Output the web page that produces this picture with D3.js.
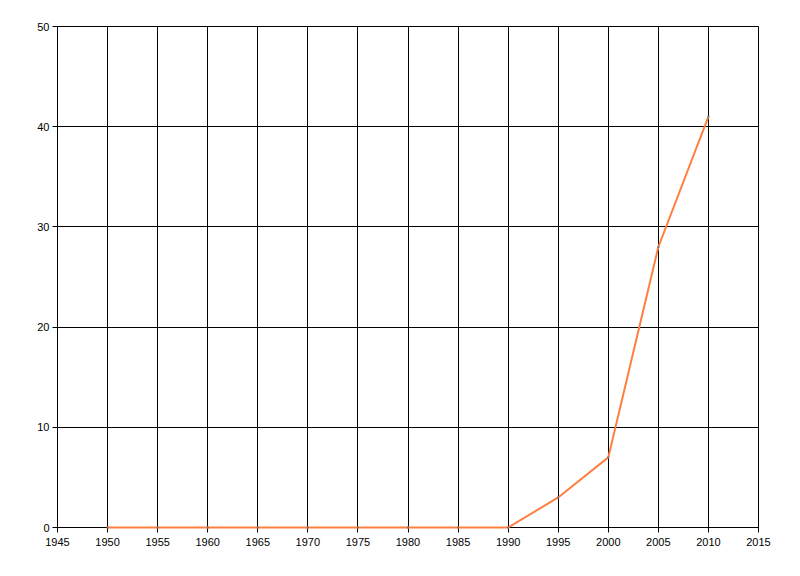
<!DOCTYPE html>
<html lang="en">
<head>
    <meta charset="UTF-8">
    <title>Line Chart</title>
    <style>
        body, html {
            margin: 0;
            padding: 0;
            background-color: #ffffff;
        }
        #chart text {
            font-family: "Liberation Sans", Arial, sans-serif;
            font-size: 11px;
            fill: #000;
        }
    </style>
</head>
<body>
    <div id="chart"></div>

    <script src="https://d3js.org/d3.v7.min.js"></script>
    <script>
        // Data
        const years = [1950, 1955, 1960, 1965, 1970, 1975, 1980, 1985, 1990, 1995, 2000, 2005, 2010];
        const values = [0, 0, 0, 0, 0, 0, 0, 0, 0, 3, 7, 28, 41];
        const xTicks = [1945, 1950, 1955, 1960, 1965, 1970, 1975, 1980, 1985, 1990, 1995, 2000, 2005, 2010, 2015];
        const yTicks = [0, 10, 20, 30, 40, 50];

        const width = 800, height = 576;
        const margin = { left: 57.5, right: 41.5, top: 26.5, bottom: 48.5 };

        const svg = d3.select("#chart").append("svg")
            .attr("width", width)
            .attr("height", height);

        const x = d3.scaleLinear()
            .domain([1945, 2015])
            .range([margin.left, width - margin.right]);

        const y = d3.scaleLinear()
            .domain([0, 50])
            .range([height - margin.bottom, margin.top]);

        // Grid lines
        const grid = svg.append("g")
            .attr("stroke", "#000")
            .attr("stroke-width", 1);

        grid.selectAll("line.vx")
            .data(xTicks)
            .join("line")
            .attr("class", "vx")
            .attr("x1", d => Math.round(x(d) - 0.5) + 0.5)
            .attr("x2", d => Math.round(x(d) - 0.5) + 0.5)
            .attr("y1", y(50))
            .attr("y2", y(0) + 5);

        grid.selectAll("line.hy")
            .data(yTicks)
            .join("line")
            .attr("class", "hy")
            .attr("x1", x(1945) - 5)
            .attr("x2", x(2015))
            .attr("y1", d => Math.round(y(d) - 0.5) + 0.5)
            .attr("y2", d => Math.round(y(d) - 0.5) + 0.5);

        // Axis labels
        svg.append("g")
            .selectAll("text")
            .data(xTicks)
            .join("text")
            .attr("x", d => x(d))
            .attr("y", y(0) + 18)
            .attr("text-anchor", "middle")
            .text(d => d);

        svg.append("g")
            .selectAll("text")
            .data(yTicks)
            .join("text")
            .attr("x", x(1945) - 8)
            .attr("y", d => y(d) + 4)
            .attr("text-anchor", "end")
            .text(d => d);

        // Series line
        const line = d3.line()
            .x((d, i) => x(years[i]))
            .y(d => y(d));

        svg.append("path")
            .datum(values)
            .attr("fill", "none")
            .attr("stroke", "#ff7f3f")
            .attr("stroke-width", 2)
            .attr("d", line);

        // tiny point markers
        svg.append("g")
            .selectAll("rect")
            .data(values)
            .join("rect")
            .attr("x", (d, i) => x(years[i]) - 1)
            .attr("y", d => y(d) - 1)
            .attr("width", 2)
            .attr("height", 2)
            .attr("fill", "#777");
    </script>
</body>
</html>
